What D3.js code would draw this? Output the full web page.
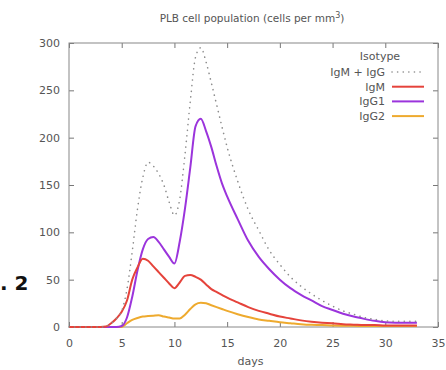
<!DOCTYPE html>
<html>
<head>
<meta charset="utf-8">
<script src="https://cdn.jsdelivr.net/npm/d3@7"></script>
<style>
  body { margin: 0; background: #fff; }
  svg { display: block; font-family: "DejaVu Sans", sans-serif; }
</style>
</head>
<body>
<div id="chart"></div>
<script>
// days sampled (shared by all series)
var days = [0, 1, 2, 3, 3.5, 4, 4.5, 5, 5.5, 6, 6.5, 7, 7.5, 8, 8.5, 9, 9.5, 10, 10.5, 11,
            11.5, 12, 12.5, 13, 13.5, 14, 14.5, 15, 16, 17, 18, 19, 20, 21, 22, 23, 24,
            25, 26, 27, 28, 29, 30, 31, 32, 33];

var igmTotal = [0, 0, 0, 0, 0.5, 4, 9, 17, 40, 80, 125, 158, 174, 170, 162, 150, 132, 118, 135, 182,
                238, 285, 295, 280, 258, 235, 212, 190, 154, 124, 102, 81, 66, 53, 43, 35, 28,
                22, 17, 13.5, 10, 8, 6.5, 6, 6, 6];
var igm = [0, 0, 0, 0, 0.5, 4, 9, 16, 28, 50, 63, 72, 70, 64, 58, 52, 46, 41, 47, 54,
           55, 53, 50, 45, 40, 37, 34, 31, 26, 21, 17, 14, 11, 9, 7, 5.5, 4.5,
           4, 3, 2.5, 2, 2, 1.5, 1.5, 1.5, 1.5];
var igg1 = [0, 0, 0, 0, 0, 0, 0, 1, 10, 32, 60, 82, 93, 95, 90, 82, 74, 67, 90, 125,
            168, 212, 220, 207, 190, 170, 152, 138, 114, 91, 74, 61, 50, 41, 34, 28, 22,
            18, 14, 11, 8.6, 6.5, 5, 4.5, 4.4, 4.4];
var igg2 = [0, 0, 0, 0, 0, 0, 0, 0, 4, 7.5, 9.5, 11, 11.5, 12, 12.5, 11, 10, 9, 9, 13,
            19, 24, 25.5, 25, 23, 21, 19, 17, 13.5, 10.5, 8, 6.5, 5, 4, 3, 2.3, 2,
            1.5, 1.3, 1.2, 1.1, 1, 1, 1, 1, 1];

var seriesNames = ['IgM + IgG', 'IgM', 'IgG1', 'IgG2'];
var seriesValues = [igmTotal, igm, igg1, igg2];
var seriesColors = ['#8c8c8c', '#e5433b', '#9b34dc', '#eeaa2e'];

var xTicks = [0, 5, 10, 15, 20, 25, 30, 35];
var yTicks = [0, 50, 100, 150, 200, 250, 300];

var width = 446, height = 370;
var margin = {top: 43, right: 8, bottom: 43, left: 69};
var w = width - margin.left - margin.right;
var h = height - margin.top - margin.bottom;

var svg = d3.select('#chart').append('svg')
    .attr('width', width)
    .attr('height', height);

var x = d3.scaleLinear().domain([0, 35]).range([0, w]);
var y = d3.scaleLinear().domain([0, 300]).range([h, 0]);

var g = svg.append('g')
    .attr('transform', 'translate(' + margin.left + ',' + margin.top + ')');

// title
svg.append('text')
    .attr('x', 252).attr('y', 22)
    .attr('text-anchor', 'middle')
    .style('font-size', '10.5px')
    .style('fill', '#555')
    .text('PLB cell population (cells per mm')
    .append('tspan')
    .attr('dy', -4).style('font-size', '8px').text('3')
    .select(function() { return this.parentNode; })
    .append('tspan')
    .attr('dy', 4).text(')');

// stray text fragment on the left edge
svg.append('text')
    .attr('x', 0).attr('y', 290)
    .style('font-size', '20px')
    .style('font-weight', 'bold')
    .style('fill', '#111')
    .text('. 2');

// axes (ticks inward, mirrored)
var tickStyle = function(sel) {
    sel.select('.domain').remove();
    sel.selectAll('line').attr('stroke', '#777');
    sel.selectAll('text').style('fill', '#555').style('font-size', '11px')
        .style('font-family', '"DejaVu Sans", sans-serif');
};

g.append('g').attr('transform', 'translate(0,' + h + ')')
    .call(d3.axisBottom(x).tickValues(xTicks).tickSizeInner(-5).tickPadding(12))
    .call(tickStyle);
g.append('g')
    .call(d3.axisTop(x).tickValues(xTicks).tickSizeInner(-5).tickFormat(''))
    .call(tickStyle);
g.append('g')
    .call(d3.axisLeft(y).tickValues(yTicks).tickSizeInner(-5).tickPadding(9))
    .call(tickStyle);
g.append('g').attr('transform', 'translate(' + w + ',0)')
    .call(d3.axisRight(y).tickValues(yTicks).tickSizeInner(-5).tickFormat(''))
    .call(tickStyle);

g.append('rect')
    .attr('width', w).attr('height', h)
    .attr('fill', 'none')
    .attr('stroke', '#888')
    .attr('stroke-width', 1);

svg.append('text')
    .attr('x', margin.left + w / 2 - 3).attr('y', height - 5)
    .attr('text-anchor', 'middle')
    .style('font-size', '11px')
    .style('fill', '#555')
    .text('days');

// lines
var line = d3.line()
    .curve(d3.curveMonotoneX)
    .x(function(d) { return x(d[0]); })
    .y(function(d) { return y(d[1]); });

// draw in back-to-front order: IgG2, IgG1, IgM, total
[3, 2, 1, 0].forEach(function(i) {
    var pts = days.map(function(d, k) { return [d, seriesValues[i][k]]; });
    g.append('path')
        .datum(pts)
        .attr('d', line)
        .attr('fill', 'none')
        .attr('stroke', seriesColors[i])
        .attr('stroke-width', i === 0 ? 1.6 : 2)
        .attr('stroke-linecap', i === 0 ? 'round' : 'butt')
        .attr('stroke-dasharray', i === 0 ? '0.1,5.5' : null)
        .attr('stroke-linejoin', 'round');
});

// legend
var legend = svg.append('g');
legend.append('text')
    .attr('x', 380).attr('y', 60)
    .attr('text-anchor', 'middle')
    .style('font-size', '11px')
    .style('fill', '#555')
    .text('Isotype');

var rows = legend.selectAll('.row')
    .data(seriesNames)
    .enter().append('g')
    .attr('transform', function(d, i) { return 'translate(0,' + (72 + i * 14.7) + ')'; });

rows.append('text')
    .attr('x', 385).attr('y', 4)
    .attr('text-anchor', 'end')
    .style('font-size', '11px')
    .style('fill', '#555')
    .text(function(d) { return d; });

rows.append('line')
    .attr('x1', 392).attr('x2', 424)
    .attr('stroke', function(d, i) { return seriesColors[i]; })
    .attr('stroke-width', function(d, i) { return i === 0 ? 1.6 : 2; })
    .attr('stroke-linecap', function(d, i) { return i === 0 ? 'round' : 'butt'; })
    .attr('stroke-dasharray', function(d, i) { return i === 0 ? '0.1,5.5' : null; });
</script>
</body>
</html>
